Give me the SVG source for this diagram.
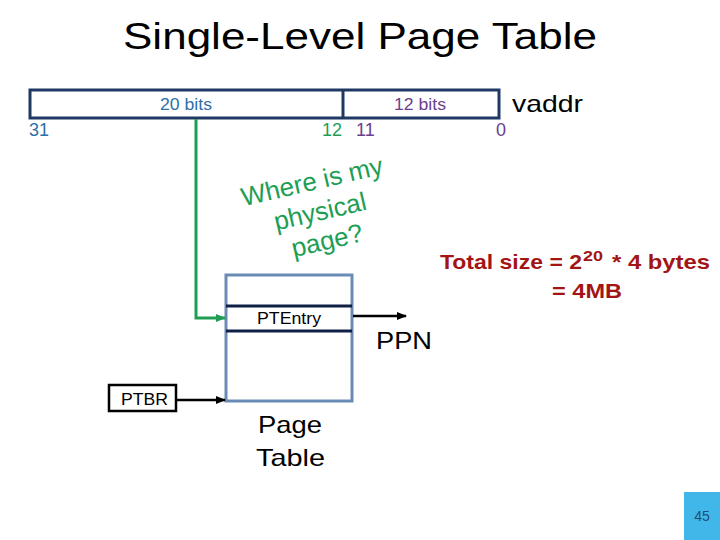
<svg xmlns="http://www.w3.org/2000/svg" width="720" height="540" viewBox="0 0 720 540">
<style>
text{font-family:"Liberation Sans",Arial,sans-serif}
.box{fill:none;stroke:#1F3864;stroke-width:3}
.pt{fill:#fff;stroke:#6A8BB5;stroke-width:3}
.blk{stroke:#000;stroke-width:2.5;fill:none}
.grn{stroke:#1E9E55;stroke-width:3;fill:none}
.big{font-size:24px;fill:#000}
</style>
<defs>
<marker id="ab" markerWidth="10" markerHeight="8" refX="9" refY="4" orient="auto" markerUnits="userSpaceOnUse"><path d="M0,0 L10,4 L0,8 Z" fill="#000"/></marker>
<marker id="ag" markerWidth="10" markerHeight="8" refX="9" refY="4" orient="auto" markerUnits="userSpaceOnUse"><path d="M0,0 L10,4 L0,8 Z" fill="#1E9E55"/></marker>
</defs>
<rect width="720" height="540" fill="#fff"/>
<text x="123" y="49" font-size="36" fill="#000" textLength="474" lengthAdjust="spacingAndGlyphs">Single-Level Page Table</text>
<g id="vaddr">
<rect class="box" x="30" y="90" width="469" height="28"/>
<line class="box" x1="343" y1="90" x2="343" y2="118"/>
<text x="160" y="110" font-size="16" fill="#2E6FA8" textLength="52" lengthAdjust="spacingAndGlyphs">20 bits</text>
<text x="394" y="110" font-size="16" fill="#6B3E8E" textLength="52" lengthAdjust="spacingAndGlyphs">12 bits</text>
<text x="29" y="136" font-size="18" fill="#2E6FA8">31</text>
<text x="322" y="136" font-size="18" fill="#1E9E55">12</text>
<text x="356" y="136" font-size="18" fill="#6B3E8E">11</text>
<text x="496" y="136" font-size="18" fill="#6B3E8E">0</text>
<text x="512" y="112" font-size="24" fill="#000" textLength="71" lengthAdjust="spacingAndGlyphs">vaddr</text>
</g>
<g id="question" fill="#1E9E55" font-size="26" text-anchor="middle">
<text x="314" y="190" transform="rotate(-13 314 190)">Where is my</text>
<text x="322" y="220" transform="rotate(-13 322 220)">physical</text>
<text x="329" y="249" transform="rotate(-13 329 249)">page?</text>
</g>
<g id="pagetable">
<rect class="pt" x="226" y="275" width="126" height="126"/>
<line x1="226" y1="306" x2="352" y2="306" stroke="#0F1F45" stroke-width="3"/>
<line x1="226" y1="331" x2="352" y2="331" stroke="#0F1F45" stroke-width="3"/>
<text x="257" y="324" font-size="16" fill="#000" textLength="64" lengthAdjust="spacingAndGlyphs">PTEntry</text>
<text x="258" y="433" class="big" textLength="64" lengthAdjust="spacingAndGlyphs">Page</text>
<text x="256" y="466" class="big" textLength="69" lengthAdjust="spacingAndGlyphs">Table</text>
</g>
<g id="ptbr">
<rect class="blk" x="109" y="385" width="67" height="26"/>
<text x="121" y="405" font-size="16" fill="#000" textLength="47" lengthAdjust="spacingAndGlyphs">PTBR</text>
</g>
<g id="ppn">
<text x="376" y="349" class="big" textLength="56" lengthAdjust="spacingAndGlyphs">PPN</text>
</g>
<g id="total" fill="#A31515" font-weight="bold" font-size="21">
<text x="440" y="269" textLength="142" lengthAdjust="spacingAndGlyphs">Total size = 2</text>
<text x="583" y="261" font-size="15" textLength="20" lengthAdjust="spacingAndGlyphs">20</text>
<text x="612" y="269" textLength="98" lengthAdjust="spacingAndGlyphs">* 4 bytes</text>
<text x="552" y="298" textLength="70" lengthAdjust="spacingAndGlyphs">= 4MB</text>
</g>
<g id="connectors">
<path class="grn" d="M196,119 V318 H225" marker-end="url(#ag)"/>
<line class="blk" x1="353" y1="316" x2="406" y2="316" marker-end="url(#ab)"/>
<line class="blk" x1="177" y1="400" x2="225" y2="400" marker-end="url(#ab)"/>
</g>
<g id="pagenum">
<rect x="684" y="492" width="36" height="48" fill="#41B6E8"/>
<text x="702" y="521" text-anchor="middle" font-size="14" fill="#1F4E79">45</text>
</g>
</svg>
